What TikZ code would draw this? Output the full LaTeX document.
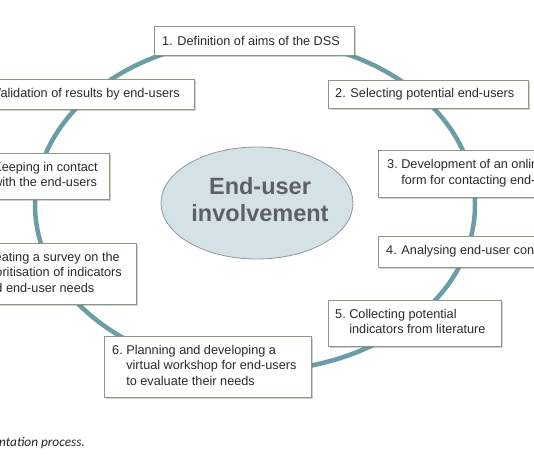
\documentclass[tikz,border=0pt]{standalone}
\usepackage{fontspec}
\setmainfont{Liberation Sans}
\newfontfamily\capfont{Carlito}
\usetikzlibrary{shadows,fit,shapes.geometric}
\definecolor{arccol}{HTML}{6B9DA6}
\definecolor{boxline}{HTML}{8A9A7E}
\definecolor{ellfill}{HTML}{D4E1E7}
\definecolor{ellline}{HTML}{8C989D}
\definecolor{txt}{HTML}{2A2A2A}
\definecolor{bigtxt}{HTML}{5E6064}
\tikzset{
  stepbox/.style={draw=boxline, line width=0.9pt, fill=white, inner sep=0pt,
    drop shadow={shadow xshift=1.8pt, shadow yshift=-1.8pt, opacity=0.3, fill=black!60}},
  steptext/.style={inner sep=0pt, text=txt, font=\fontsize{12.7}{15.5}\selectfont},
  cycleline/.style={draw=arccol, line width=4.5pt},
}
\begin{document}
\begin{tikzpicture}[x=1pt, y=-1pt]
\useasboundingbox (0,0) rectangle (534,462);
\clip (0,0) rectangle (534,462);
\fill[white] (0,0) rectangle (534,462);
% cycle
\draw[cycleline] (255,205) ellipse [x radius=220pt, y radius=166pt];
% centre
\node[ellipse, draw=ellline, line width=0.8pt, fill=ellfill, minimum width=192pt, minimum height=112pt, inner sep=0pt] (ctr) at (257,203) {};
\node[inner sep=0pt, align=center, text=bigtxt, font=\bfseries\fontsize{23.5}{27}\selectfont] (ctrtext) at (260,200) {End-user\\involvement};
% boxes
\node[stepbox, fit={(154,26) (354,55)}] (b1) {};
\node[stepbox, fit={(328,80) (528,108)}] (b2) {};
\node[stepbox, fit={(378,150) (640,197)}] (b3) {};
\node[stepbox, fit={(378,236) (640,267)}] (b4) {};
\node[stepbox, fit={(328,300) (501,346)}] (b5) {};
\node[stepbox, fit={(104,336) (311,397)}] (b6) {};
\node[stepbox, fit={(-90,243) (136,304)}] (b7) {};
\node[stepbox, fit={(-90,153) (109,199)}] (b8) {};
\node[stepbox, fit={(-90,79) (194,109)}] (b9) {};
% texts
\node[steptext, anchor=west] (t1) at (162,40.5) {1. Definition of aims of the DSS};
\node[steptext, anchor=west] (t2) at (335,94) {2. Selecting potential end-users};
\node[steptext, anchor=west] (t3) at (387,173.5) {\begin{tabular}{@{}l@{\ }l@{}}3. & Development of an online\\ & form for contacting end-users\end{tabular}};
\node[steptext, anchor=west] (t4) at (386,251.5) {4. Analysing end-user contacts};
\node[steptext, anchor=west] (t5) at (335,323) {\begin{tabular}{@{}l@{\ }l@{}}5. & Collecting potential\\ & indicators from literature\end{tabular}};
\node[steptext, anchor=west] (t6) at (112,366.5) {\begin{tabular}{@{}l@{\ }l@{}}6. & Planning and developing a\\ & virtual workshop for end-users\\ & to evaluate their needs\end{tabular}};
\node[steptext, anchor=east] (t7) at (122,273.5) {\begin{tabular}{@{}l@{\ }l@{}}7. & Creating a survey on the\\ & prioritisation of indicators\\ & and end-user needs\end{tabular}};
\node[steptext, anchor=east] (t8) at (98,176) {\begin{tabular}{@{}l@{\ }l@{}}8. & Keeping in contact\\ & with the end-users\end{tabular}};
\node[steptext, anchor=east] (t9) at (180,94) {9. Validation of results by end-users};
% caption
\node[anchor=base west, inner sep=0pt, text=black!85, font=\capfont\itshape\fontsize{13.3}{16}\selectfont] (cap) at (-1,446) {ntation process.};
\end{tikzpicture}
\end{document}
